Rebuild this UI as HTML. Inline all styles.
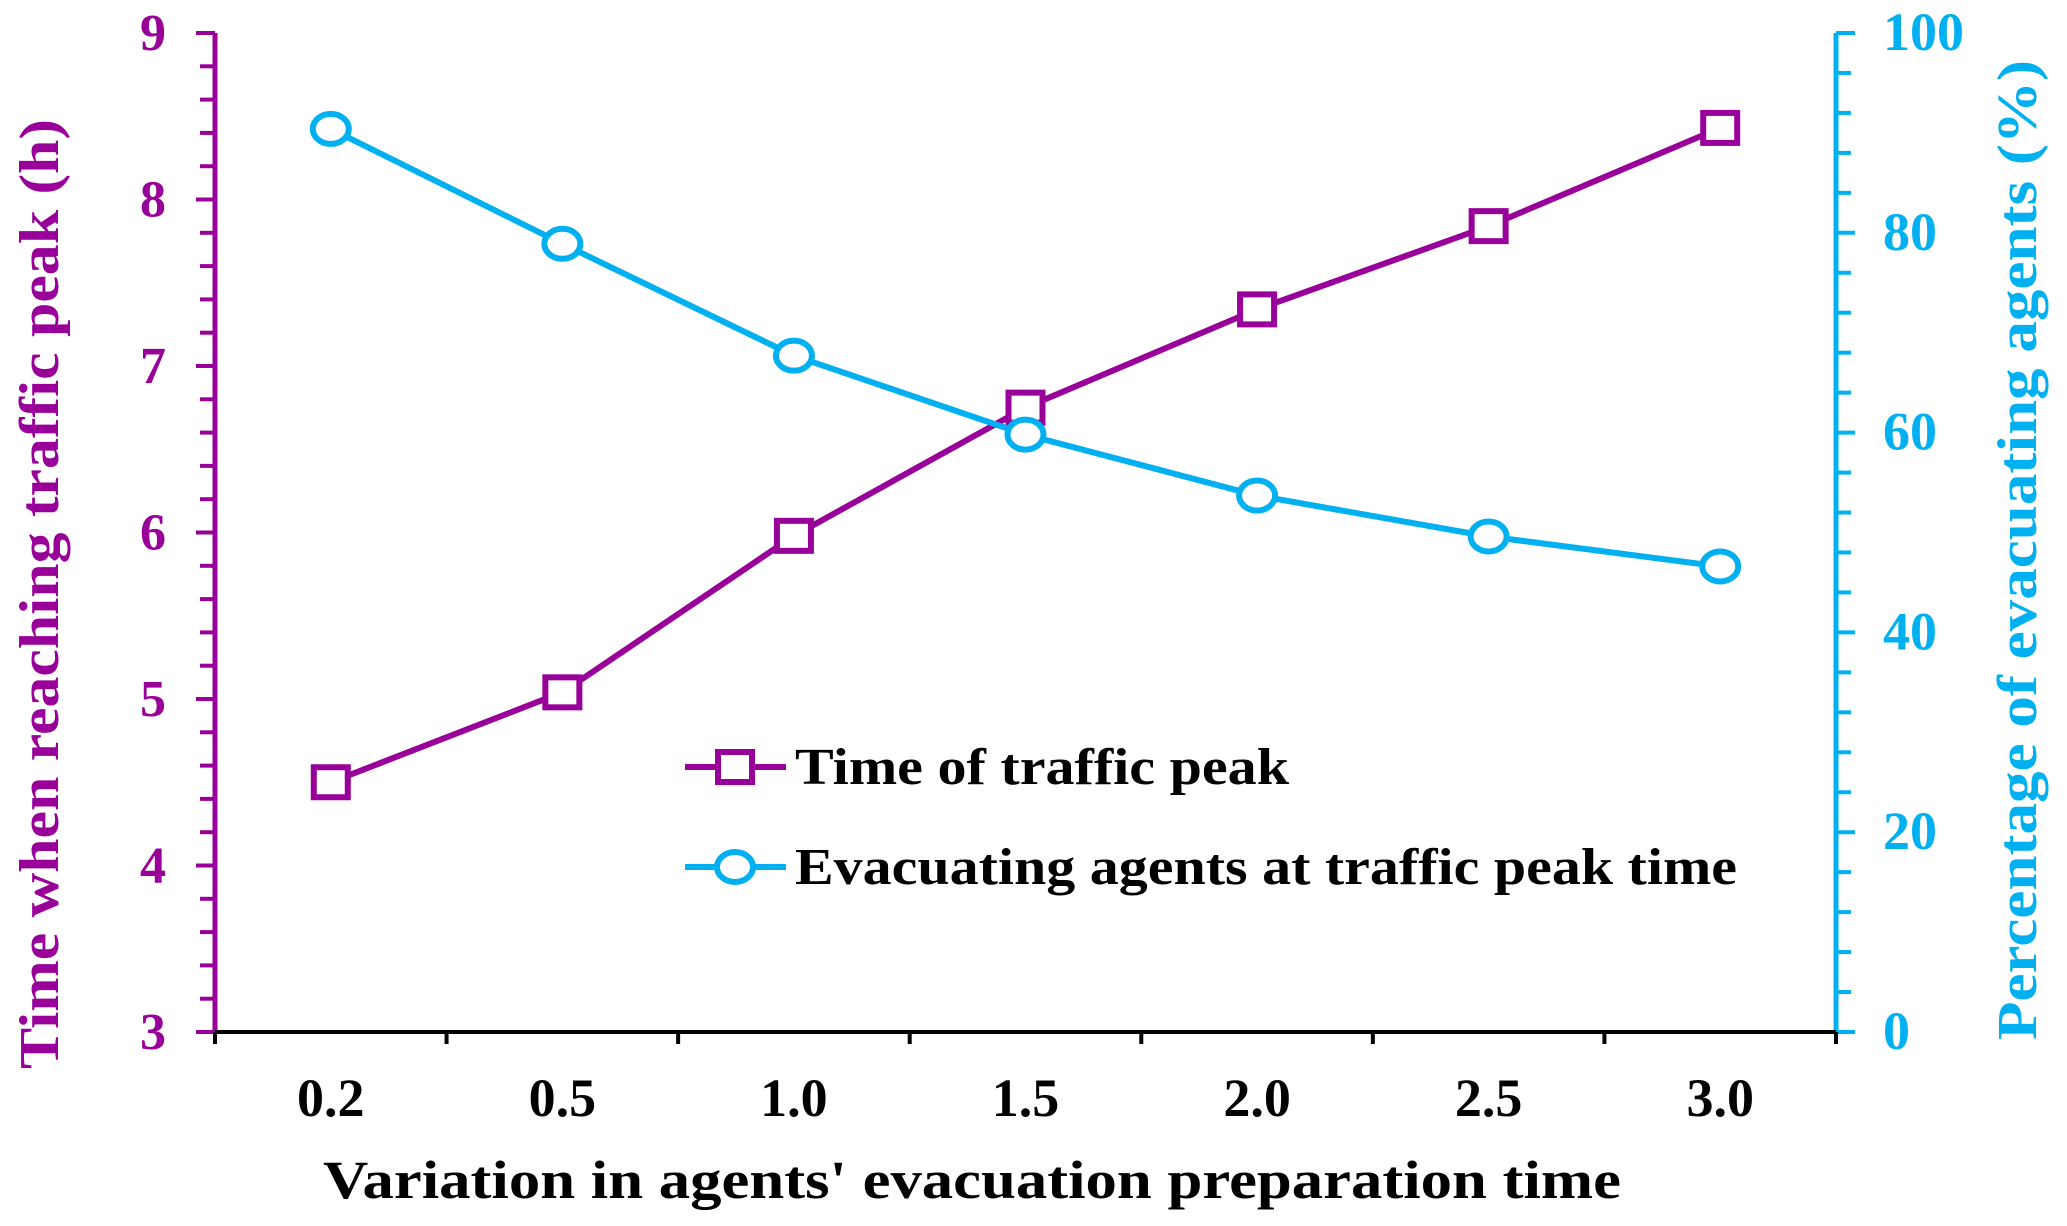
<!DOCTYPE html>
<html><head><meta charset="utf-8"><style>
html,body{margin:0;padding:0;background:#fff;}
svg{display:block;font-family:"Liberation Serif",serif;font-weight:bold;}
</style></head><body>
<svg id="chart" width="2067" height="1226" viewBox="0 0 2067 1226" xmlns="http://www.w3.org/2000/svg"></svg>
<script>
const categories = ["0.2","0.5","1.0","1.5","2.0","2.5","3.0"];
const peakTime = [4.5, 5.04, 5.98, 6.75, 7.34, 7.84, 8.43];
const evacPct = [90.4, 78.9, 67.7, 59.8, 53.7, 49.6, 46.6];
const leftTicks = [3,4,5,6,7,8,9];
const rightTicks = [0,20,40,60,80,100];

const NS="http://www.w3.org/2000/svg";
const svg=document.getElementById('chart');
const PURPLE="#990099", BLUE="#00b0f0";
const X0=215, X1=1836, YT=33, YB=1032;
const bw=(X1-X0)/categories.length;
const xS=i=>X0+bw*(i+0.5);
const yL=v=>YB-(v-3)/(9-3)*(YB-YT);
const yR=v=>YB-v/100*(YB-YT);
function el(tag,attrs,parent){const e=document.createElementNS(NS,tag);for(const k in attrs)e.setAttribute(k,attrs[k]);(parent||svg).appendChild(e);return e;}

// left axis
const la=el('g',{});


el('line',{x1:X0,y1:YT,x2:X0,y2:YB,stroke:PURPLE,'stroke-width':5},la);
for(let v=3;v<=9.0001;v+=0.2){const maj=Math.abs(v-Math.round(v))<0.01;el('line',{x1:X0-(maj?19:15),y1:yL(v),x2:X0,y2:yL(v),stroke:PURPLE,'stroke-width':4},la);}
leftTicks.forEach(v=>{const t=el('text',{x:166,y:yL(v)+17,'text-anchor':'end','font-size':52,fill:PURPLE},la);t.textContent=v;

});
// right axis
const ra=el('g',{});


el('line',{x1:X1,y1:YT,x2:X1,y2:YB,stroke:BLUE,'stroke-width':5},ra);
for(let v=0;v<=100.001;v+=4){const maj=v%20===0;el('line',{x1:X1,y1:yR(v),x2:X1+(maj?19:15),y2:yR(v),stroke:BLUE,'stroke-width':4},ra);}
rightTicks.forEach(v=>{const t=el('text',{x:1883,y:yR(v)+17,'text-anchor':'start','font-size':54,fill:BLUE},ra);t.textContent=v;

});
// x axis
const xa=el('g',{});


el('line',{x1:X0,y1:YB,x2:X1,y2:YB,stroke:'#000','stroke-width':4},xa);
for(let i=0;i<=categories.length;i++){el('line',{x1:X0+bw*i,y1:YB,x2:X0+bw*i,y2:YB+12,stroke:'#000','stroke-width':4},xa);}
categories.forEach((c,i)=>{const t=el('text',{x:xS(i),y:1116,'text-anchor':'middle','font-size':54,fill:'#000'},xa);t.textContent=c;

});
// titles
let t=el('text',{x:323,y:1198,'text-anchor':'start','font-size':54,fill:'#000',textLength:1298,lengthAdjust:'spacingAndGlyphs'});
t.textContent="Variation in agents' evacuation preparation time";


t=el('text',{x:0,y:0,'text-anchor':'middle','font-size':56,fill:PURPLE,textLength:950,lengthAdjust:'spacingAndGlyphs',transform:'translate(58,594) rotate(-90)'});
t.textContent="Time when reaching traffic peak (h)";


t=el('text',{x:0,y:0,'text-anchor':'middle','font-size':56,fill:BLUE,textLength:980,lengthAdjust:'spacingAndGlyphs',transform:'translate(2036,550) rotate(-90)'});
t.textContent="Percentage of evacuating agents (%)";


// series
const s1=el('g',{});


el('polyline',{points:peakTime.map((v,i)=>xS(i)+','+yL(v)).join(' '),fill:'none',stroke:PURPLE,'stroke-width':6},s1);
peakTime.forEach((v,i)=>{const m=el('rect',{x:xS(i)-17,y:yL(v)-15,width:34,height:30,fill:'#fff',stroke:PURPLE,'stroke-width':6},s1);

});
const s2=el('g',{});


el('polyline',{points:evacPct.map((v,i)=>xS(i)+','+yR(v)).join(' '),fill:'none',stroke:BLUE,'stroke-width':6},s2);
evacPct.forEach((v,i)=>{const m=el('ellipse',{cx:xS(i),cy:yR(v),rx:18,ry:15,fill:'#fff',stroke:BLUE,'stroke-width':6},s2);

});
// legend
const lg=el('g',{});


const e1=el('g',{},lg);


el('line',{x1:685,y1:767,x2:786,y2:767,stroke:PURPLE,'stroke-width':6},e1);
el('rect',{x:718,y:752,width:34,height:30,fill:'#fff',stroke:PURPLE,'stroke-width':6},e1);
t=el('text',{x:795,y:784,'font-size':52,fill:'#000',textLength:494,lengthAdjust:'spacingAndGlyphs'},e1);t.textContent="Time of traffic peak";
const e2=el('g',{},lg);


el('line',{x1:685,y1:867,x2:786,y2:867,stroke:BLUE,'stroke-width':6},e2);
el('ellipse',{cx:735,cy:867,rx:18,ry:15,fill:'#fff',stroke:BLUE,'stroke-width':6},e2);
t=el('text',{x:795,y:884,'font-size':52,fill:'#000',textLength:942,lengthAdjust:'spacingAndGlyphs'},e2);t.textContent="Evacuating agents at traffic peak time";
</script>
</body></html>
